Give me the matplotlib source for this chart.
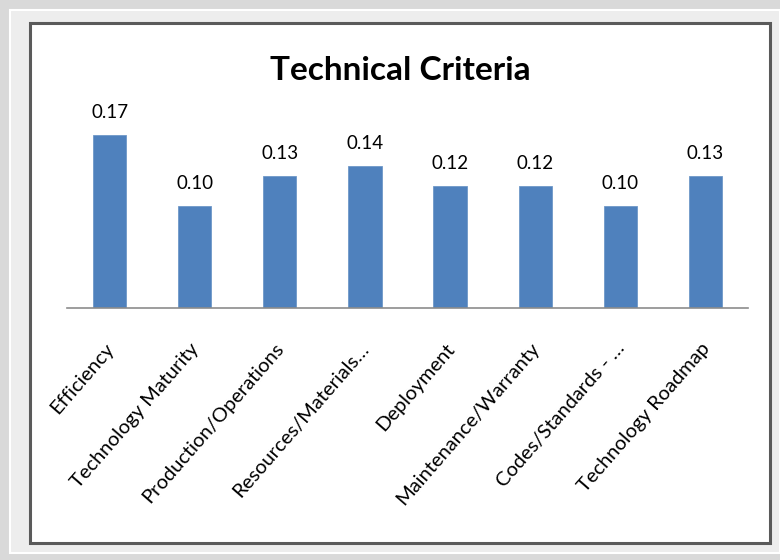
import matplotlib
matplotlib.use("Agg")
import matplotlib.pyplot as plt
from matplotlib.patches import Rectangle
from matplotlib.transforms import ScaledTranslation
import numpy as np

categories = [
    "Efficiency",
    "Technology Maturity",
    "Production/Operations",
    "Resources/Materials\u2026",
    "Deployment",
    "Maintenance/Warranty",
    "Codes/Standards - \u2026",
    "Technology Roadmap",
]
weights = [0.17, 0.10, 0.13, 0.14, 0.12, 0.12, 0.10, 0.13]

bar_color = "#4F81BD"
W, H = 780, 560


def px(x, y):
    # pixel coords (top-left origin) -> figure fraction
    return x / W, 1 - y / H


fig = plt.figure(figsize=(W / 100, H / 100), dpi=100, facecolor="#d9d9d9")

# frame: light band, then dark bordered white panel (behind the axes)
x0, y0 = px(10, 553)
fig.add_artist(Rectangle((x0, y0), 770 / W, 543 / H, transform=fig.transFigure,
                         facecolor="#ededed", edgecolor="white", linewidth=1.5, zorder=-10))
x0, y0 = px(30, 543)
fig.add_artist(Rectangle((x0, y0), 740 / W, 520 / H, transform=fig.transFigure,
                         facecolor="white", edgecolor="#5a5a5a", linewidth=2.2, zorder=-9))

left, bottom = px(67, 308)
ax = fig.add_axes([left, bottom, 681 / W, 203.4 / H])
ax.set_facecolor("none")

x = np.arange(len(categories))
bars = ax.bar(x, weights, width=0.39, color=bar_color, edgecolor="#6f98c8", linewidth=0.6)
ax.bar_label(bars, fmt="%.2f", padding=10, fontsize=13.5, family=["Lato", "DejaVu Sans"])

ax.set_xlim(-0.5, len(categories) - 0.5)
ax.set_ylim(0, 0.2)
for s in ["top", "right", "left"]:
    ax.spines[s].set_visible(False)
ax.spines["bottom"].set_color("#8c8c8c")
ax.spines["bottom"].set_linewidth(1.2)
ax.set_yticks([])
ax.set_xticks(x)
ax.set_xticklabels(categories, rotation=49, ha="right", va="center",
                   rotation_mode="anchor", fontsize=14.5,
                   family=["Lato", "DejaVu Sans"])
ax.tick_params(axis="x", length=0, pad=27)
shift = ScaledTranslation(1 / 100, 0, fig.dpi_scale_trans)
for lab in ax.get_xticklabels():
    lab.set_transform(lab.get_transform() + shift)

tx, ty = px(400, 70)
fig.text(tx, ty, "Technical Criteria", ha="center", va="center", fontsize=24,
         fontweight="bold", family=["Lato", "DejaVu Sans"])

fig.savefig("out.png", dpi=100, facecolor=fig.get_facecolor())
